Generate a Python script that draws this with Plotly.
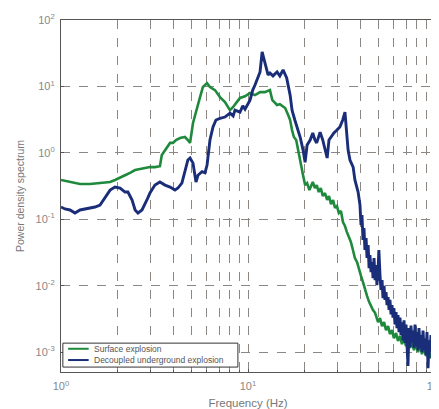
import plotly.graph_objects as go

# ---- data (frequency in Hz, PSD) ----
surface_freq = [1.00, 1.117, 1.264, 1.43, 1.617, 1.83, 1.945, 2.07, 2.20, 2.34, 2.49, 2.65, 2.81, 2.99, 3.18,
                3.38, 3.46, 3.65, 3.83, 3.97, 4.12, 4.33, 4.60, 4.77, 4.90, 5.08, 5.33, 5.54, 5.74, 6.04,
                6.26, 6.66, 7.08, 7.53, 8.01, 8.33, 8.71, 9.06, 9.64, 10.25, 10.9, 11.6, 12.3, 13.1, 13.5,
                14.3, 14.8, 15.8, 16.4, 16.8, 17.2, 17.6, 18.1, 18.5, 19.0, 19.7, 20.2, 20.7, 21.3, 21.7,
                22.2, 22.8, 23.3, 23.9, 24.5, 25.1, 25.8, 26.5, 27.1, 27.8, 28.5, 29.2, 29.9, 30.6, 31.4,
                32.2, 33.0, 33.8, 34.6, 35.5, 36.4, 37.3, 38.3, 39.2, 40.2, 41.2, 42.2, 43.3, 44.4, 45.5,
                46.6, 47.8, 48.4, 49.6, 50.8, 52.1, 53.4, 54.7, 56.1, 57.4, 58.9, 60.3, 61.9, 63.4, 65.0,
                66.6, 68.3, 70.0, 71.7, 73.5, 75.3, 77.2, 79.1, 81.1, 83.2, 85.2, 87.4, 89.5, 91.8, 94.0,
                96.4, 98.8, 100.0]
surface_psd = [0.39, 0.363, 0.34, 0.34, 0.35, 0.363, 0.39, 0.42, 0.46, 0.50, 0.55, 0.57, 0.59, 0.61, 0.61,
               0.63, 0.93, 1.17, 1.41, 1.41, 1.56, 1.67, 1.73, 1.56, 1.41, 2.81, 4.9, 6.9, 9.8, 11.2,
               9.8, 8.8, 6.9, 5.8, 4.4, 4.9, 5.8, 6.7, 7.1, 7.95, 7.4, 8.2, 8.2, 8.8, 6.2,
               5.25, 5.4, 4.73, 3.71, 3.12, 2.2, 1.73, 1.56, 1.10, 0.78, 0.46, 0.327, 0.35, 0.275, 0.316,
               0.363, 0.295, 0.327, 0.257, 0.295, 0.224, 0.248, 0.195, 0.224, 0.169, 0.195, 0.148, 0.158, 0.124, 0.133,
               0.0908, 0.079, 0.064, 0.0558, 0.0454, 0.0344, 0.0261, 0.0226, 0.0172, 0.0140, 0.0113, 0.0086, 0.0070, 0.0057, 0.0049,
               0.0043, 0.0039, 0.00349, 0.00283, 0.00325, 0.00246, 0.00283, 0.00214, 0.00246, 0.00187, 0.00214, 0.00162, 0.00193, 0.00147, 0.00174,
               0.00132, 0.00162, 0.00123, 0.00152, 0.00115, 0.00141, 0.00107, 0.00132, 0.00100, 0.00127, 0.00093, 0.00119, 0.00087, 0.00111, 0.00081,
               0.00100, 0.00071, 0.00087]

decoupled_freq = [1.00, 1.05, 1.117, 1.188, 1.264, 1.34, 1.43, 1.52, 1.617, 1.72, 1.83, 1.945, 2.07, 2.20, 2.28,
                  2.40, 2.49, 2.58, 2.71, 2.88, 2.99, 3.18, 3.38, 3.60, 3.83, 4.07, 4.22, 4.43, 4.60, 4.77,
                  4.90, 5.08, 5.27, 5.40, 5.68, 5.89, 6.04, 6.26, 6.50, 6.74, 7.08, 7.53, 8.01, 8.33, 8.52,
                  9.06, 9.38, 9.64, 10.25, 10.6, 10.9, 11.2, 11.6, 11.9, 12.2, 12.5, 12.8, 13.1, 13.6, 14.3,
                  14.8, 15.4, 15.8, 16.1, 16.8, 17.2, 17.8, 18.5, 19.0, 19.7, 20.2, 20.7, 21.5, 22.2, 22.8,
                  23.3, 24.3, 25.1, 25.8, 26.5, 27.1, 27.8, 28.8, 29.9, 31.0, 32.1, 33.0, 33.5, 34.3, 35.1,
                  36.5, 37.3, 38.8, 39.7, 40.2, 40.7, 41.2, 41.7, 42.2, 42.8, 43.3, 43.9, 44.4, 44.9, 45.5,
                  46.1, 46.6, 47.2, 47.8, 48.4, 48.9, 49.6, 50.1, 50.8, 51.4, 52.1, 52.7, 53.4, 54.0,
                  54.7, 55.4, 56.1, 56.8, 57.4, 58.2, 58.9, 59.6, 60.3, 61.1, 61.9, 62.6, 63.4, 64.2, 65.0,
                  65.8, 66.6, 67.4, 68.3, 69.1, 70.0, 70.9, 71.7, 72.6, 73.5, 74.4, 75.3, 76.3, 77.2, 78.2,
                  79.1, 80.1, 81.1, 82.1, 83.2, 84.2, 85.2, 86.3, 87.4, 88.4, 89.5, 90.6, 91.8, 92.9, 94.0,
                  95.2, 96.4, 97.6, 98.8, 100.0]
decoupled_psd = [0.153, 0.143, 0.138, 0.124, 0.138, 0.143, 0.148, 0.153, 0.164, 0.209, 0.275, 0.305, 0.295, 0.257, 0.257,
                 0.195, 0.138, 0.124, 0.138, 0.195, 0.248, 0.327, 0.363, 0.327, 0.305, 0.275, 0.295, 0.35, 0.55, 0.78,
                 0.835, 0.70, 0.363, 0.46, 0.52, 0.50, 0.655, 1.56, 2.45, 3.12, 3.3, 3.46, 3.97, 3.6, 4.4,
                 4.1, 5.1, 4.55, 6.2, 8.8, 10.5, 12.5, 16.5, 33.0, 25.0, 18.9, 14.9, 15.9, 14.4, 16.5,
                 14.4, 17.7, 15.4, 13.4, 7.4, 4.4, 3.12, 2.2, 1.73, 1.10, 0.72, 1.31, 1.56, 1.99, 1.56,
                 1.41, 2.05, 1.56, 1.10, 0.835, 1.56, 1.73, 1.99, 2.2, 2.45, 3.12, 4.1, 2.45, 1.10, 0.78,
                 0.61, 0.39, 0.257, 0.164, 0.0818, 0.1156, 0.0486, 0.0736, 0.0344, 0.0521, 0.0261, 0.0408, 0.0184, 0.0289, 0.0160,
                 0.0226, 0.0130, 0.0261, 0.0121, 0.0204, 0.0102, 0.0172, 0.0344, 0.0144, 0.0086, 0.0121, 0.0065, 0.0099, 0.0061,
                 0.0080, 0.0051, 0.0067, 0.0043, 0.0061, 0.0037, 0.0051, 0.0033, 0.0046, 0.0026, 0.0040, 0.0023, 0.0036, 0.0020, 0.0033,
                 0.0018, 0.0028, 0.0015, 0.0030, 0.00137, 0.0026, 0.00127, 0.00062, 0.0023, 0.00119, 0.0025, 0.00141, 0.0021, 0.00115, 0.0026,
                 0.00123, 0.0020, 0.00107, 0.0023, 0.00115, 0.0018, 0.0010, 0.0021, 0.00107, 0.0016, 0.00090, 0.0020, 0.00057, 0.0015, 0.0010,
                 0.0018, 0.00081, 0.0015, 0.00064, 0.00127]

series_names = ["Surface explosion", "Decoupled underground explosion"]
series_colors = ["#1f8a3c", "#1a2d78"]

x_major_vals = [1, 10, 100]
x_major_text = ["10<sup>0</sup>", "10<sup>1</sup>", "10<sup>2</sup>"]
x_minor_vals = [2, 3, 4, 5, 6, 7, 8, 9, 20, 30, 40, 50, 60, 70, 80, 90]
y_tick_vals = [1e-3, 1e-2, 1e-1, 1, 10, 100]
y_tick_text = ["10<sup>-3</sup>", "10<sup>-2</sup>", "10<sup>-1</sup>", "10<sup>0</sup>",
               "10<sup>1</sup>", "10<sup>2</sup>"]

assert len(surface_freq) == len(surface_psd)
assert len(decoupled_freq) == len(decoupled_psd)

fig = go.Figure()
fig.add_trace(go.Scatter(x=surface_freq, y=surface_psd, mode="lines", name=series_names[0],
                         line=dict(color=series_colors[0], width=2.6)))
fig.add_trace(go.Scatter(x=decoupled_freq, y=decoupled_psd, mode="lines", name=series_names[1],
                         line=dict(color=series_colors[1], width=2.9)))

# compact MATLAB-style legend box (bottom-left of the axes)
fig.add_shape(type="rect", xref="paper", yref="paper", x0=0.005, x1=0.473, y0=0.014, y1=0.082,
              line=dict(color="#333333", width=1), fillcolor="white", layer="above")
legend_rows = [0.066, 0.034]
for name, col, yy in zip(series_names, series_colors, legend_rows):
    fig.add_shape(type="line", xref="paper", yref="paper", x0=0.019, x1=0.074, y0=yy, y1=yy,
                  line=dict(color=col, width=2), layer="above")
    fig.add_annotation(text=name, xref="paper", yref="paper", x=0.083, y=yy, xanchor="left",
                       yanchor="middle", showarrow=False, font=dict(size=8.5, color="#555555"))

grid_col = "#8c8782"
axis_common = dict(
    showgrid=True, gridcolor=grid_col, griddash="dash", gridwidth=1,
    showline=True, linecolor="#555555", linewidth=1.2, mirror=True,
    ticks="inside", ticklen=3, tickcolor="#555555",
    tickfont=dict(size=11, color="#888888"), zeroline=False, automargin=False,
)
fig.update_layout(
    width=439, height=409,
    margin=dict(l=53, r=12, t=12, b=45),
    paper_bgcolor="white", plot_bgcolor="white",
    font=dict(family="Liberation Sans, Arial, sans-serif", color="#777777"),
    showlegend=False,
    xaxis=dict(type="log", range=[0, 2], tickmode="array", tickvals=x_major_vals, ticktext=x_major_text,
               minor=dict(tickmode="array", tickvals=x_minor_vals, showgrid=True, gridcolor=grid_col,
                          griddash="dash", gridwidth=1, ticks="inside", ticklen=2, tickcolor="#555555"),
               ticklabelstandoff=4,
               title=dict(text="Frequency (Hz)", font=dict(size=11.5, color="#777777"), standoff=7),
               **axis_common),
    yaxis=dict(type="log", range=[-3.3, 2], tickmode="array", tickvals=y_tick_vals, ticktext=y_tick_text,
               ticklabelstandoff=3,
               title=dict(text="Power density spectrum", font=dict(size=10.5, color="#777777"), standoff=8),
               **axis_common),
)

fig.write_html("out.html")
